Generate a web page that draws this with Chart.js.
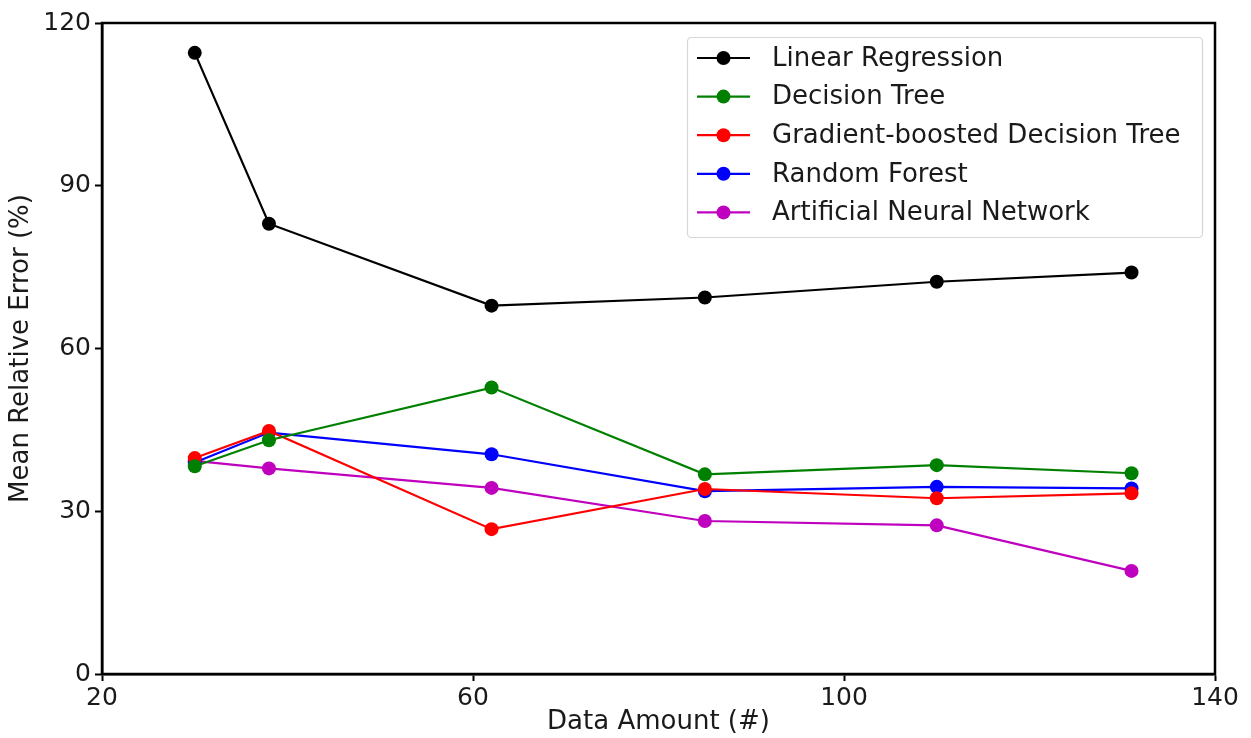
<!DOCTYPE html>
<html>
<head>
<meta charset="utf-8">
<script src="https://cdn.jsdelivr.net/npm/chart.js@4/dist/chart.umd.min.js"></script>
<style>
  html, body { margin: 0; padding: 0; background: #fff; }
  #wrap { width: 1251px; height: 738px; position: relative; }
</style>
</head>
<body>
<div id="wrap"><canvas id="chart" width="1251" height="738"></canvas></div>
<script>
// Data amount on the x axis, mean relative error (%) per model
const dataAmount = [30, 38, 62, 85, 110, 131];
const linearRegression = [114.5, 83.0, 67.9, 69.4, 72.3, 74.0];
const decisionTree = [38.3, 43.1, 52.8, 36.8, 38.5, 37.0];
const gradientBoosted = [39.8, 44.8, 26.7, 34.1, 32.4, 33.3];
const randomForest = [39.0, 44.5, 40.5, 33.7, 34.5, 34.2];
const neuralNetwork = [39.3, 37.9, 34.3, 28.2, 27.4, 19.0];

const xTicks = [20, 60, 100, 140];
const yTicks = [0, 30, 60, 90, 120];

const FONT = "'DejaVu Sans', sans-serif";
const TEXT = '#1a1a1a';

function series(label, values, color) {
  return {
    label,
    data: dataAmount.map((x, i) => ({ x, y: values[i] })),
    borderColor: color,
    backgroundColor: color,
    pointBackgroundColor: color,
    pointBorderColor: color,
    pointRadius: 7,
    pointHoverRadius: 7,
    pointBorderWidth: 0,
    borderWidth: 2.2,
    tension: 0,
    fill: false,
  };
}

const datasets = [
  series('Linear Regression', linearRegression, '#000000'),
  series('Decision Tree', decisionTree, '#008000'),
  series('Gradient-boosted Decision Tree', gradientBoosted, '#ff0000'),
  series('Random Forest', randomForest, '#0000ff'),
  series('Artificial Neural Network', neuralNetwork, '#bf00bf'),
];

// Frame round the plot area plus a legend box in the upper right corner
const framePlugin = {
  id: 'frame',
  afterDraw(chart) {
    const { ctx, chartArea: a } = chart;
    ctx.save();
    ctx.strokeStyle = '#000';
    ctx.lineWidth = 2.5;
    ctx.strokeRect(a.left, a.top, a.right - a.left, a.bottom - a.top);

    const boxX = 687, boxY = 37, boxW = 515, boxH = 200;
    ctx.fillStyle = 'rgba(255,255,255,0.8)';
    ctx.strokeStyle = '#d6d6d6';
    ctx.lineWidth = 1.2;
    ctx.beginPath();
    ctx.roundRect(boxX + 0.5, boxY + 0.5, boxW, boxH, 4);
    ctx.fill();
    ctx.stroke();

    ctx.font = `26px ${FONT}`;
    ctx.textBaseline = 'middle';
    chart.data.datasets.forEach((ds, i) => {
      const y = 58 + i * 38.6;
      ctx.strokeStyle = ds.borderColor;
      ctx.lineWidth = 2.2;
      ctx.beginPath();
      ctx.moveTo(697, y);
      ctx.lineTo(750, y);
      ctx.stroke();
      ctx.fillStyle = ds.borderColor;
      ctx.beginPath();
      ctx.arc(723.5, y, 7, 0, Math.PI * 2);
      ctx.fill();
      ctx.fillStyle = TEXT;
      ctx.fillText(ds.label, 772, y + 1);
    });
    ctx.restore();
  }
};

new Chart(document.getElementById('chart'), {
  type: 'line',
  data: { datasets },
  plugins: [framePlugin],
  options: {
    responsive: false,
    animation: false,
    events: [],
    layout: { padding: { left: 0, right: 36, top: 23, bottom: 0 } },
    plugins: { legend: { display: false }, tooltip: { enabled: false } },
    scales: {
      x: {
        type: 'linear',
        min: 20, max: 140,
        afterBuildTicks: (s) => { s.ticks = xTicks.map(v => ({ value: v })); },
        afterFit: (s) => { s.height = 64; },
        ticks: { color: TEXT, font: { family: FONT, size: 25 }, padding: 2, maxRotation: 0 },
        grid: { drawOnChartArea: false, color: '#000', tickLength: 7, tickWidth: 2 },
        border: { color: '#000', width: 2.5 },
        title: { display: true, text: 'Data Amount (#)', color: TEXT, font: { family: FONT, size: 26 }, padding: { top: 0, bottom: 0 } },
      },
      y: {
        min: 0, max: 120,
        afterBuildTicks: (s) => { s.ticks = yTicks.map(v => ({ value: v })); },
        afterFit: (s) => { s.width = 102; },
        ticks: { color: TEXT, font: { family: FONT, size: 25 }, padding: 4 },
        grid: { drawOnChartArea: false, color: '#000', tickLength: 7, tickWidth: 2 },
        border: { color: '#000', width: 2.5 },
        title: { display: true, text: 'Mean Relative Error (%)', color: TEXT, font: { family: FONT, size: 26 }, padding: { top: 6, bottom: 0 } },
      },
    },
  },
});
</script>
</body>
</html>
